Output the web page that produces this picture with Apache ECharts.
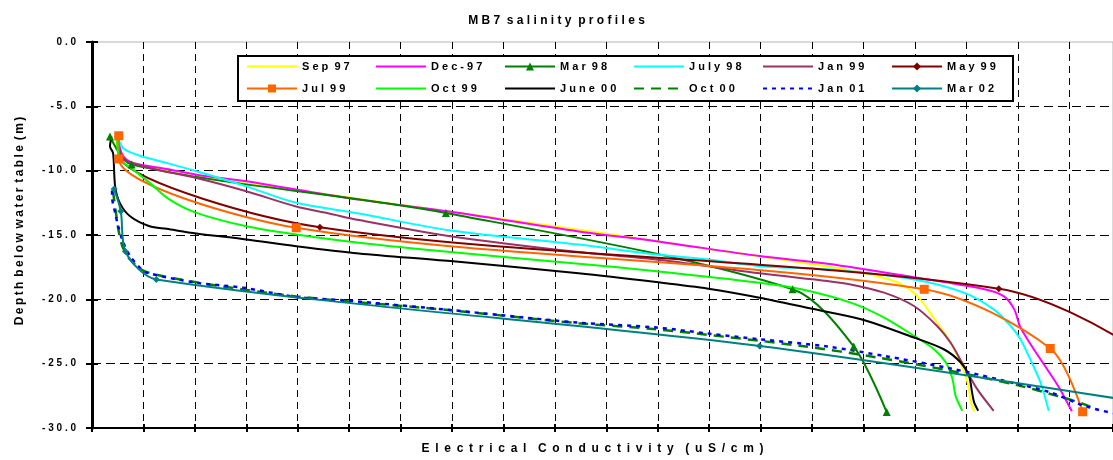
<!DOCTYPE html>
<html>
<head>
<meta charset="utf-8">
<script src="https://cdn.jsdelivr.net/npm/echarts@6/dist/echarts.min.js"></script>
<style>
  html, body { margin: 0; padding: 0; background: #fff; }
  #chart { width: 1113px; height: 460px; }
</style>
</head>
<body>
<div id="chart"></div>
<script>
// depth profiles: [electrical conductivity (uS/cm), depth below water table (m)]
const sep97 = [[460,-7.52],[520,-8.37],[740,-9.30],[1260,-9.84],[1900,-10.39],[2930,-10.97],[4030,-11.55],[5970,-12.64],[7910,-13.72],[9850,-14.81],[11780,-15.97],[14300,-17.44],[14940,-17.91],[15660,-18.68],[16050,-19.77],[16380,-21.55],[16690,-23.33],[16880,-24.88],[17020,-26.43],[17090,-27.98],[17150,-28.70]];
const dec97 = [[500,-7.44],[600,-8.84],[800,-9.40],[1450,-9.87],[2030,-10.31],[3000,-10.83],[3970,-11.47],[5190,-12.25],[6940,-13.18],[9460,-14.73],[10970,-15.48],[12980,-16.64],[14300,-17.23],[15990,-18.29],[17350,-19.22],[17730,-19.77],[17930,-20.78],[18040,-22.09],[18150,-22.87],[18310,-23.88],[18570,-25.43],[18820,-26.98],[19050,-28.70]];
const mar98 = [[350,-7.34],[770,-9.53],[6880,-13.29],[13620,-19.22],[14810,-23.67],[15450,-28.76]];
const jul98 = [[510,-7.47],[560,-7.98],[640,-8.37],[930,-8.84],[1450,-9.40],[2030,-10.05],[3000,-11.22],[3970,-12.50],[5190,-13.33],[6970,-14.65],[9460,-15.74],[10970,-16.51],[11980,-16.90],[12980,-17.42],[14300,-17.67],[15980,-18.45],[16950,-19.48],[17530,-20.78],[17860,-22.07],[18050,-23.10],[18240,-24.65],[18440,-26.46],[18600,-28.66]];
const jan99 = [[500,-7.40],[540,-8.53],[610,-9.15],[1120,-9.79],[2030,-10.57],[3000,-11.60],[3970,-12.79],[4610,-13.33],[5190,-13.84],[6970,-15.09],[9460,-16.33],[10970,-16.90],[11980,-17.42],[12980,-17.98],[14300,-18.58],[14750,-18.84],[15400,-19.48],[15980,-20.52],[16430,-22.07],[16690,-23.36],[16950,-25.17],[17210,-26.98],[17530,-28.66]];
const may99 = [[500,-7.33],[540,-9.11],[4430,-14.40],[17630,-19.17],[20310,-23.88],[21280,-28.70]];
const jul99 = [[520,-7.29],[520,-9.09],[3970,-14.44],[16180,-19.22],[18630,-23.82],[19260,-28.74]];
const oct99 = [[490,-7.40],[500,-8.37],[540,-9.15],[800,-9.92],[1120,-10.95],[1510,-12.25],[2030,-13.28],[3000,-14.32],[3970,-14.96],[5190,-15.60],[6970,-16.33],[9460,-17.23],[10970,-17.81],[12980,-18.71],[13790,-19.22],[14750,-20.26],[15400,-21.42],[15980,-22.84],[16370,-23.88],[16600,-24.91],[16730,-26.20],[16790,-27.50],[16920,-28.66]];
const jun00 = [[380,-7.34],[350,-8.12],[410,-8.63],[450,-11.22],[540,-12.50],[740,-13.54],[1120,-14.32],[1450,-14.52],[2030,-14.88],[3000,-15.35],[3970,-15.87],[5190,-16.43],[6970,-17.03],[9460,-17.98],[10970,-18.66],[11980,-19.17],[12980,-19.87],[13980,-20.72],[14950,-21.55],[15980,-22.97],[16560,-23.88],[16890,-24.91],[17050,-25.95],[17110,-27.23],[17150,-28.01],[17230,-28.66]];
const oct00 = [[410,-11.63],[470,-13.41],[520,-14.73],[600,-15.97],[740,-16.90],[1030,-17.83],[2030,-18.68],[3970,-19.77],[6970,-20.85],[9460,-21.86],[10970,-22.33],[13790,-23.62],[15270,-24.52],[16690,-25.56],[17990,-26.67],[18760,-27.50],[19280,-28.14],[19540,-28.60]];
const jan01 = [[390,-11.55],[390,-12.02],[450,-13.28],[510,-14.32],[610,-15.60],[740,-16.64],[930,-17.54],[1060,-17.93],[2030,-18.71],[2930,-19.09],[3970,-19.82],[4810,-20.05],[6970,-20.83],[7970,-21.24],[9460,-21.81],[10970,-22.19],[11980,-22.66],[12980,-23.10],[14300,-23.67],[15400,-24.40],[16690,-25.37],[17660,-26.26],[18630,-27.23],[19280,-28.27],[19850,-28.85]];
const mar02 = [[430,-11.42],[560,-13.16],[650,-16.28],[1250,-18.45],[12980,-23.62],[21470,-28.68]];

const seriesNames = ['Sep 97', 'Dec-97', 'Mar 98', 'July 98', 'Jan 99', 'May 99', 'Jul 99', 'Oct 99', 'June 00', 'Oct 00', 'Jan 01', 'Mar 02'];
const seriesData = [sep97, dec97, mar98, jul98, jan99, may99, jul99, oct99, jun00, oct00, jan01, mar02];

// look of each profile
const seriesStyle = [
  { color: '#FFFF00' },
  { color: '#FF00FF' },
  { color: '#008000', symbol: 'triangle', size: 8 },
  { color: '#00FFFF' },
  { color: '#993366' },
  { color: '#800000', symbol: 'diamond', size: 7 },
  { color: '#FF6600', symbol: 'rect', size: 9 },
  { color: '#00FF00' },
  { color: '#000000' },
  { color: '#008000', dash: [10, 7], width: 2.5 },
  { color: '#0000FF', dash: [4, 5], width: 2.5 },
  { color: '#008080', symbol: 'diamond', size: 7 }
];

const font = '"Liberation Sans", Arial, sans-serif';

// the original renders its text with wide letter spacing
function spaced(s, sep) {
  return s.split(' ').map(w => Array.from(w).join(sep)).join(sep + sep);
}

const chart = echarts.init(document.getElementById('chart'), null, { renderer: 'canvas' });

let series = seriesData.map((data, i) => {
  const st = seriesStyle[i];
  return {
    name: seriesNames[i],
    type: 'line',
    data: data,
    smooth: 0.3,
    symbol: st.symbol || 'none',
    symbolSize: st.size || 0,
    showAllSymbol: true,
    itemStyle: { color: st.color },
    lineStyle: { color: st.color, width: st.width || 2, type: st.dash || 'solid' },
    emphasis: { disabled: true },
    animation: false
  };
});

// legend entries: only the marked profiles show a symbol on the legend line
let legendData = seriesNames.map((name, i) => {
  const st = seriesStyle[i];
  return st.symbol ? { name: name } : { name: name, itemStyle: { opacity: 0 } };
});

let option = {
  backgroundColor: '#fff',
  animation: false,
  title: {
    text: spaced('MB7 salinity profiles', ' '),
    left: 'center',
    top: 10,
    textStyle: { fontFamily: font, fontSize: 12, fontWeight: 'bold', color: '#000' }
  },
  legend: {
    data: legendData,
    left: 238,
    top: 56,
    width: 790,
    padding: [4, 2, 6, 8],
    itemWidth: 50,
    itemHeight: 10,
    itemGap: 9,
    backgroundColor: '#fff',
    borderColor: '#000',
    borderWidth: 2,
    formatter: name => spaced(name, ' '),
    textStyle: { fontFamily: font, fontSize: 11, fontWeight: 'bold', color: '#000', width: 64, lineHeight: 13 }
  },
  grid: {
    left: 92,
    top: 42,
    right: -2,
    bottom: 31,
    show: true,
    borderColor: '#b4b4b4',
    borderWidth: 1
  },
  xAxis: [
    {
      type: 'value',
      position: 'bottom',
      min: 0,
      max: 19850,
      interval: 1000,
      axisLine: { show: true, onZero: false, lineStyle: { color: '#000', width: 2 } },
      axisTick: { show: true, length: 4, lineStyle: { color: '#000', width: 2 } },
      axisLabel: { show: false },
      splitLine: { show: true, showMinLine: false, lineStyle: { color: '#000', width: 1, type: [7, 5] } },
      name: spaced('Electrical Conductivity (uS/cm)', ' \u2009'),
      nameLocation: 'middle',
      nameGap: 15,
      nameTextStyle: { fontFamily: font, fontSize: 12, fontWeight: 'bold', color: '#000', padding: [0, 20, 0, 0] }
    },
    {
      type: 'value',
      position: 'bottom',
      min: 0,
      max: 19850,
      interval: 1000,
      axisLine: { show: false, onZero: false },
      axisTick: { show: true, inside: true, length: 4, lineStyle: { color: '#000', width: 2 } },
      axisLabel: { show: false },
      splitLine: { show: false }
    }
  ],
  yAxis: [
    {
      type: 'value',
      position: 'left',
      min: -30,
      max: 0,
      interval: 5,
      axisLine: { show: true, onZero: false, lineStyle: { color: '#000', width: 3 } },
      axisTick: { show: true, length: 6, lineStyle: { color: '#000', width: 2 } },
      axisLabel: {
        formatter: v => spaced(v.toFixed(1), ' '),
        margin: 16,
        fontFamily: font, fontSize: 10, fontWeight: 'bold', color: '#000'
      },
      splitLine: { show: true, showMaxLine: false, showMinLine: false, lineStyle: { color: '#000', width: 1, type: [9, 5] } },
      name: spaced('Depth below water table (m)', '\u2009'),
      nameLocation: 'middle',
      nameGap: 66,
      nameTextStyle: { fontFamily: font, fontSize: 12, fontWeight: 'bold', color: '#000', padding: [0, 0, 0, 28] }
    },
    {
      type: 'value',
      position: 'left',
      min: -30,
      max: 0,
      interval: 5,
      axisLine: { show: false, onZero: false },
      axisTick: { show: true, inside: true, length: 6, lineStyle: { color: '#000', width: 2 } },
      axisLabel: { show: false },
      splitLine: { show: false }
    }
  ],
  series: series
};
chart.setOption(option);
</script>
</body>
</html>
